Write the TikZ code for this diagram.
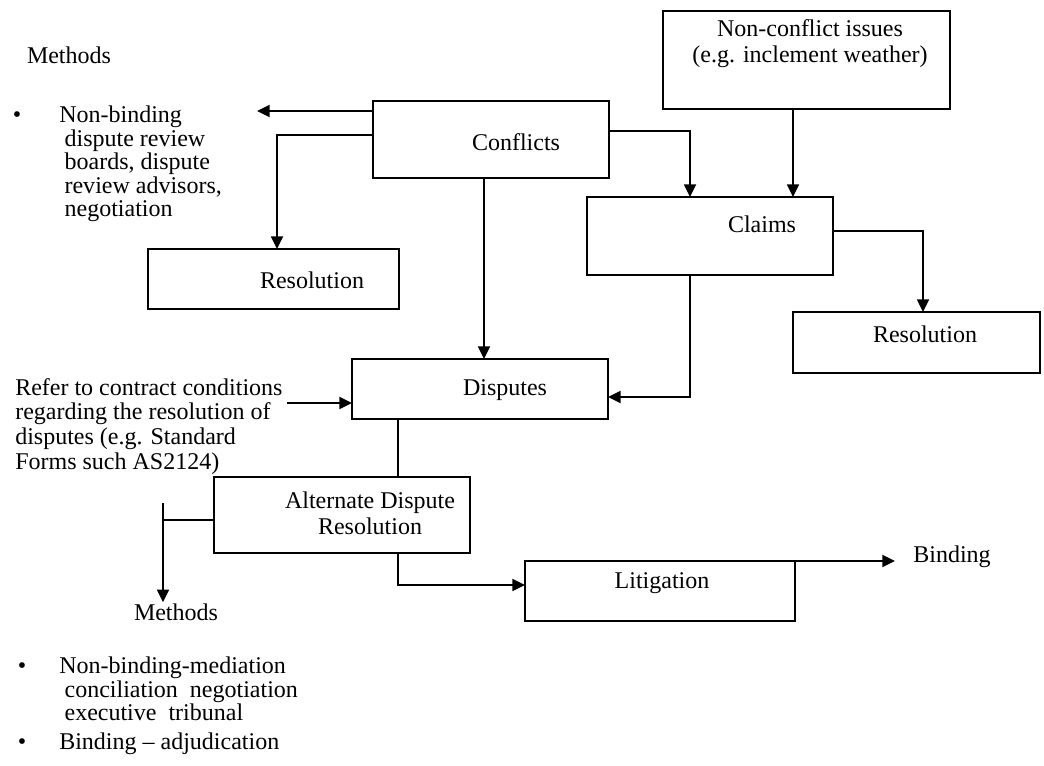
\documentclass[tikz,border=0pt]{standalone}
\usepackage{fontspec}
\setmainfont{Liberation Serif}
\usepackage{tikz}
\usetikzlibrary{arrows.meta}

\begin{document}
\begin{tikzpicture}[x=0.75pt,y=0.75pt,yscale=-1,xscale=1,
  box/.style={draw,line width=1.2pt,inner sep=0pt,outer sep=0pt},
  ln/.style={line width=1.2pt},
  arr/.style={line width=1.2pt,-{Triangle[length=9.5pt,width=9pt]}},
  txt/.style={inner sep=0.75pt,font=\fontsize{18}{20}\selectfont}]
\useasboundingbox (0,0) rectangle (1044,766);

%Shape: Rectangle [conflicts]
\node[box,minimum width=177pt,minimum height=57.75pt] (conf) at (491,139.5) {};
%Shape: Rectangle [non-conflict issues]
\node[box,minimum width=215.25pt,minimum height=73.5pt] (nonconf) at (806.5,60) {};
%Shape: Rectangle [claims]
\node[box,minimum width=184.5pt,minimum height=58.5pt] (claims) at (710,236) {};
%Shape: Rectangle [resolution, left]
\node[box,minimum width=188.25pt,minimum height=45pt] (resL) at (273.5,279) {};
%Shape: Rectangle [resolution, right]
\node[box,minimum width=185.25pt,minimum height=45.75pt] (resR) at (916.5,342.5) {};
%Shape: Rectangle [disputes]
\node[box,minimum width=192pt,minimum height=45pt] (disp) at (480,389) {};
%Shape: Rectangle [alternate dispute resolution]
\node[box,minimum width=192pt,minimum height=57pt] (adr) at (342,515) {};
%Shape: Rectangle [litigation]
\node[box,minimum width=202.5pt,minimum height=45pt] (lit) at (660,591) {};

% Text Node
\node[txt] (conft) at (516,142) {Conflicts};
% Text Node
\node[txt,align=center,font=\fontsize{18}{19.5}\selectfont] (nonct) at (810,44) {Non-conflict issues\\(e.g. inclement weather)};
% Text Node
\node[txt] (claimt) at (762,224) {Claims};
% Text Node
\node[txt] (resLt) at (312,280) {Resolution};
% Text Node
\node[txt] (resRt) at (925,334) {Resolution};
% Text Node
\node[txt] (dispt) at (505,390) {Disputes};
% Text Node
\node[txt,align=center,font=\fontsize{18}{19.5}\selectfont] (adrt) at (370,513) {Alternate Dispute\\Resolution};
% Text Node
\node[txt] (litt) at (662,583) {Litigation};
% Text Node
\node[txt] (bindt) at (952,557) {Binding};
% Text Node
\node[txt] (meth1) at (69,55) {Methods};
% Text Node
\node[txt] (bul1) at (17,117) {\textbullet};
% Text Node
\node[txt,anchor=north west,align=left,font=\fontsize{18}{17.6}\selectfont] (list1) at (58,105) {Non-binding\\\hspace*{4pt}dispute review\\\hspace*{4pt}boards, dispute\\\hspace*{4pt}review advisors,\\\hspace*{4pt}negotiation};
% Text Node
\node[txt,anchor=north west,align=left,font=\fontsize{18}{18.5}\selectfont] (reft) at (14,377) {Refer to contract conditions\\regarding the resolution of\\disputes (e.g. Standard\\Forms such AS2124)};
% Text Node
\node[txt] (meth2) at (176,612) {Methods};
% Text Node
\node[txt] (bul2) at (22,668) {\textbullet};
% Text Node
\node[txt,anchor=north west,align=left,font=\fontsize{18}{17.4}\selectfont] (list2) at (58,656) {Non-binding-mediation\\\hspace*{4pt}conciliation\ \ negotiation\\\hspace*{4pt}executive\ \ tribunal};
% Text Node
\node[txt] (bul3) at (22,744) {\textbullet};
% Text Node
\node[txt,anchor=west] (list3) at (58,744) {Binding – adjudication};

% bend points and free ends
\coordinate (k1) at (257,111);
\coordinate (k2) at (277,135);
\coordinate (k3) at (690,131);
\coordinate (k4) at (793,0);
\coordinate (k5) at (923,231);
\coordinate (k6) at (484,0);
\coordinate (k7) at (690,397);
\coordinate (k8) at (287,403);
\coordinate (k9) at (398,585);
\coordinate (k10) at (163,520);
\coordinate (k11) at (163,503);
\coordinate (k12) at (895,561);

%Straight Lines
\draw[arr] (conf.west |- k1) -- (k1);
\draw[arr] (conf.west |- k2) -| (k2 |- resL.north);
\draw[arr] (conf.east |- k3) -| (k3 |- claims.north);
\draw[arr] (nonconf.south -| k4) -- (claims.north -| k4);
\draw[arr] (claims.east |- k5) -| (k5 |- resR.north);
\draw[arr] (conf.south -| k6) -- (disp.north -| k6);
\draw[arr] (claims.south -| k7) |- (disp.east |- k7);
\draw[arr] (k8) -- (disp.west |- k8);
\draw[ln] (disp.south -| k9) -- (adr.north -| k9);
\draw[arr] (adr.south -| k9) |- (lit.west |- k9);
\draw[ln] (adr.west |- k10) -- (k10);
\draw[arr] (k11) -- (k11 |- meth2.north);
\draw[arr] (lit.north east) -- (k12);

\end{tikzpicture}
\end{document}
